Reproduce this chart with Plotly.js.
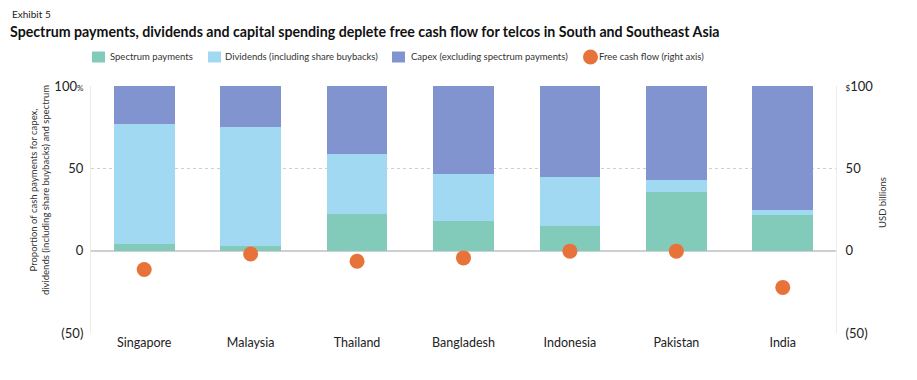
<!DOCTYPE html>
<html>
<head>
<meta charset="utf-8">
<script src="https://cdn.plot.ly/plotly-3.0.1.min.js"></script>
<style>html,body{margin:0;padding:0;background:#fff;}#chart{width:917px;height:380px;}</style>
</head>
<body>
<div id="chart"></div>
<script>
const countries = ["Singapore", "Malaysia", "Thailand", "Bangladesh", "Indonesia", "Pakistan", "India"];
const spectrum = [4, 3, 22, 18, 15, 35.5, 21.7];
const dividends = [73, 72, 37, 28.5, 30, 7.7, 2.8];
const capex = [23, 25, 41, 53.5, 55, 56.8, 75.5];
const freeCashFlow = [-11.4, -2, -6.4, -4.4, -0.3, -0.3, -22.3];
const tickVals = [100, 50, 0, -50];
const leftTickText = ['100<span style="font-size:8px">%</span>', '50', '0', '(50)'];
const rightTickText = ['<span style="font-size:8px">$</span>100', '50', '0', '(50)'];
const seriesNames = ['Spectrum payments', 'Dividends (including share buybacks)', 'Capex (excluding spectrum payments)', 'Free cash flow (right axis)'];
const seriesColors = ['#82CBBB', '#A2D9F2', '#8294CF', '#E8733A'];

const FONT = 'Lato, "Open Sans", sans-serif';
const barW = 0.57;
const W = 917, H = 380, ML = 91, MR = 81, MT = 86, MB = 47;
const plotW = W - ML - MR, plotH = H - MT - MB;
const px = x => (x - ML) / plotW;          // pixel x -> paper x
const py = y => (H - MB - y) / plotH;      // pixel y -> paper y

const traces = [
  {type: 'bar', name: seriesNames[0], x: countries, y: spectrum, width: barW,
   marker: {color: seriesColors[0]}, hoverinfo: 'skip'},
  {type: 'bar', name: seriesNames[1], x: countries, y: dividends, width: barW,
   marker: {color: seriesColors[1]}, hoverinfo: 'skip'},
  {type: 'bar', name: seriesNames[2], x: countries, y: capex, width: barW,
   marker: {color: seriesColors[2]}, hoverinfo: 'skip'},
  {type: 'scatter', mode: 'markers', name: seriesNames[3], x: countries, y: freeCashFlow,
   yaxis: 'y2', marker: {color: seriesColors[3], size: 15}, hoverinfo: 'skip'}
];

// custom legend (swatches + labels)
const legY = 57;
const swatchX = [92, 208, 392];
const textX = [109, 224, 410, 598];
const shapes = [];
swatchX.forEach((x, i) => {
  shapes.push({type: 'rect', xref: 'paper', yref: 'paper', x0: px(x), x1: px(x + 13), y0: py(legY - 5.5), y1: py(legY + 5.5),
               fillcolor: seriesColors[i], line: {width: 0}, layer: 'above'});
});
shapes.push({type: 'circle', xref: 'paper', yref: 'paper', x0: px(583), x1: px(598), y0: py(legY - 7.5), y1: py(legY + 7.5),
             fillcolor: seriesColors[3], line: {width: 0}, layer: 'above'});

const annotations = [
  {text: 'Exhibit 5', xref: 'paper', yref: 'paper', x: px(10), xanchor: 'left', y: py(14), yanchor: 'middle',
   showarrow: false, font: {size: 10, color: '#222'}},
  {text: 'Proportion of cash payments for capex,<br>dividends (including share buybacks) and spectrum',
   xref: 'paper', yref: 'paper', x: px(39), xanchor: 'center', y: py(190), yanchor: 'middle',
   textangle: -90, showarrow: false, font: {size: 9.5, color: '#333'}},
  {text: 'USD billions', xref: 'paper', yref: 'paper', x: px(882), xanchor: 'center', y: py(203), yanchor: 'middle',
   textangle: -90, showarrow: false, font: {size: 9.5, color: '#333'}}
];
seriesNames.forEach((n, i) => {
  annotations.push({text: n, xref: 'paper', yref: 'paper', x: px(textX[i]), xanchor: 'left', y: py(legY), yanchor: 'middle',
                    showarrow: false, font: {size: 9.5, color: '#333'}, xshift: -1});
});

const layout = {
  width: W, height: H,
  margin: {l: ML, r: MR, t: MT, b: MB},
  paper_bgcolor: '#fff', plot_bgcolor: '#fff',
  font: {family: FONT, size: 12, color: '#222'},
  barmode: 'stack',
  showlegend: false,
  title: {text: '<b>Spectrum payments, dividends and capital spending deplete free cash flow for telcos in South and Southeast Asia</b>',
          x: 10 / W, xref: 'container', xanchor: 'left', y: 1 - 32 / H, yref: 'container', yanchor: 'middle',
          font: {size: 14.2, color: '#111', family: FONT}},
  xaxis: {range: [-0.5, 6.5], showgrid: false, zeroline: false, showline: false,
          tickfont: {size: 12.5, color: '#222'}, ticks: '', ticklen: 0},
  yaxis: {range: [-50, 100], tickvals: tickVals, ticktext: leftTickText,
          showgrid: true, gridcolor: '#cfcfcf', griddash: 'dot', gridwidth: 1,
          zeroline: true, zerolinecolor: '#cfcfcf', zerolinewidth: 2,
          showline: true, linecolor: '#ececec', linewidth: 1,
          tickfont: {size: 13, color: '#222'}, ticks: '', ticklabelstandoff: 4},
  yaxis2: {range: [-50, 100], overlaying: 'y', side: 'right', tickvals: tickVals, ticktext: rightTickText,
           showgrid: false, zeroline: false, showline: true, linecolor: '#ececec', linewidth: 1,
           tickfont: {size: 13, color: '#222'}, ticks: '', ticklabelstandoff: 6},
  shapes: shapes,
  annotations: annotations
};

Plotly.newPlot('chart', traces, layout, {staticPlot: true, displayModeBar: false});
</script>
</body>
</html>
